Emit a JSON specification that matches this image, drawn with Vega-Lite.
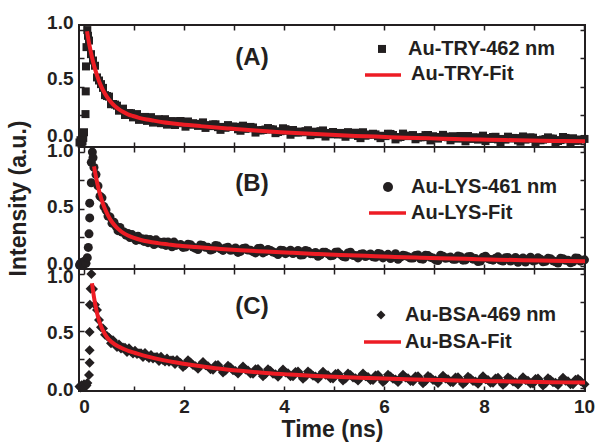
{
"$schema": "https://vega.github.io/schema/vega-lite/v6.json",
"background": "white",
"padding": {"left": 6, "top": 12, "right": 0, "bottom": 0},
"spacing": 0,
"bounds": "flush",
"config": {
  "view": {"stroke": "#231f20", "strokeWidth": 2},
  "axis": {"grid": false, "domain": false, "tickColor": "#231f20", "tickWidth": 1.5, "tickSize": -5, "labelFlush": false, "labelOverlap": false, "labelFont": "Liberation Sans", "labelFontWeight": "bold", "labelFontSize": 19, "labelColor": "#231f20", "titleFont": "Liberation Sans", "titleFontWeight": "bold", "titleFontSize": 23, "titleColor": "#231f20"},
  "text": {"font": "Liberation Sans", "fontWeight": "bold", "color": "#231f20"}
},
"datasets": {
  "pointsA": [
    {"t":-0.09,"v":0.01},{"t":-0.07,"v":0.03},{"t":-0.05,"v":0.0},{"t":-0.03,"v":0.02},{"t":-0.015,"v":0.05},{"t":0.0,"v":0.10},{"t":0.03,"v":0.26},{"t":0.035,"v":0.46},{"t":0.04,"v":0.68},{"t":0.05,"v":0.85},{"t":0.066,"v":1.0},{"t":0.08,"v":0.95},
    {"t":0.10,"v":0.908},{"t":0.14,"v":0.788},{"t":0.18,"v":0.732},{"t":0.22,"v":0.686},{"t":0.26,"v":0.583},{"t":0.30,"v":0.556},{"t":0.34,"v":0.524},{"t":0.38,"v":0.491},{"t":0.42,"v":0.427},{"t":0.46,"v":0.419},
    {"t":0.50,"v":0.414},{"t":0.54,"v":0.347},{"t":0.58,"v":0.349},{"t":0.62,"v":0.344},{"t":0.66,"v":0.334},{"t":0.70,"v":0.290},{"t":0.74,"v":0.298},{"t":0.78,"v":0.308},{"t":0.82,"v":0.252},{"t":0.86,"v":0.266},
    {"t":0.90,"v":0.269},{"t":0.94,"v":0.268},{"t":0.98,"v":0.231},{"t":1.02,"v":0.244},{"t":1.06,"v":0.260},{"t":1.10,"v":0.209},{"t":1.14,"v":0.226},{"t":1.18,"v":0.234},{"t":1.22,"v":0.235},{"t":1.26,"v":0.200},
    {"t":1.30,"v":0.216},{"t":1.34,"v":0.233},{"t":1.38,"v":0.185},{"t":1.42,"v":0.203},{"t":1.46,"v":0.212},{"t":1.50,"v":0.214},{"t":1.54,"v":0.180},{"t":1.58,"v":0.197},{"t":1.62,"v":0.215},{"t":1.66,"v":0.167},
    {"t":1.70,"v":0.186},{"t":1.74,"v":0.195},{"t":1.78,"v":0.198},{"t":1.82,"v":0.164},{"t":1.86,"v":0.182},
    {"t":1.93,"v":0.199},{"t":2.03,"v":0.149},{"t":2.13,"v":0.166},{"t":2.23,"v":0.173},{"t":2.33,"v":0.174},{"t":2.43,"v":0.138},{"t":2.53,"v":0.154},{"t":2.63,"v":0.170},{"t":2.73,"v":0.121},{"t":2.83,"v":0.139},
    {"t":2.93,"v":0.147},{"t":3.03,"v":0.148},{"t":3.13,"v":0.113},{"t":3.23,"v":0.130},{"t":3.33,"v":0.147},{"t":3.43,"v":0.097},{"t":3.53,"v":0.116},{"t":3.63,"v":0.124},{"t":3.73,"v":0.127},{"t":3.83,"v":0.092},
    {"t":3.93,"v":0.109},{"t":4.03,"v":0.127},{"t":4.13,"v":0.078},{"t":4.23,"v":0.098},{"t":4.33,"v":0.106},{"t":4.43,"v":0.109},{"t":4.53,"v":0.074},{"t":4.63,"v":0.092},{"t":4.73,"v":0.110},{"t":4.83,"v":0.062},
    {"t":4.93,"v":0.082},{"t":5.03,"v":0.091},{"t":5.13,"v":0.094},{"t":5.23,"v":0.060},{"t":5.33,"v":0.078},{"t":5.43,"v":0.096},{"t":5.53,"v":0.048},{"t":5.63,"v":0.069},{"t":5.73,"v":0.078},{"t":5.83,"v":0.081},
    {"t":5.93,"v":0.048},{"t":6.03,"v":0.066},{"t":6.13,"v":0.085},{"t":6.23,"v":0.037},{"t":6.33,"v":0.058},{"t":6.43,"v":0.067},{"t":6.53,"v":0.071},{"t":6.63,"v":0.038},{"t":6.73,"v":0.056},{"t":6.83,"v":0.075},
    {"t":6.93,"v":0.028},{"t":7.03,"v":0.049},{"t":7.13,"v":0.058},{"t":7.23,"v":0.062},{"t":7.33,"v":0.029},{"t":7.43,"v":0.048},{"t":7.53,"v":0.067},{"t":7.63,"v":0.020},{"t":7.73,"v":0.041},{"t":7.83,"v":0.051},
    {"t":7.93,"v":0.055},{"t":8.03,"v":0.022},{"t":8.13,"v":0.041},{"t":8.23,"v":0.060},{"t":8.33,"v":0.013},{"t":8.43,"v":0.035},{"t":8.53,"v":0.045},{"t":8.63,"v":0.049},{"t":8.73,"v":0.016},{"t":8.83,"v":0.035},
    {"t":8.93,"v":0.055},{"t":9.03,"v":0.008},{"t":9.13,"v":0.029},{"t":9.23,"v":0.040},{"t":9.33,"v":0.044},{"t":9.43,"v":0.011},{"t":9.53,"v":0.031},{"t":9.63,"v":0.050},{"t":9.73,"v":0.004},{"t":9.83,"v":0.025},
    {"t":9.93,"v":0.036},{"t":10.01,"v":0.041},
    {"t":1.98,"v":0.179},{"t":2.08,"v":0.195},{"t":2.18,"v":0.180},{"t":2.28,"v":0.156},{"t":2.38,"v":0.187},{"t":2.48,"v":0.163},{"t":2.58,"v":0.169},{"t":2.68,"v":0.145},{"t":2.78,"v":0.147},{"t":2.88,"v":0.163},
    {"t":2.98,"v":0.150},{"t":3.08,"v":0.126},{"t":3.18,"v":0.158},{"t":3.28,"v":0.135},{"t":3.38,"v":0.142},{"t":3.48,"v":0.118},{"t":3.58,"v":0.120},{"t":3.68,"v":0.137},{"t":3.78,"v":0.125},{"t":3.88,"v":0.102},
    {"t":3.98,"v":0.135},{"t":4.08,"v":0.113},{"t":4.18,"v":0.120},{"t":4.28,"v":0.098},{"t":4.38,"v":0.100},{"t":4.48,"v":0.118},{"t":4.58,"v":0.105},{"t":4.68,"v":0.083},{"t":4.78,"v":0.116},{"t":4.88,"v":0.094},
    {"t":4.98,"v":0.102},{"t":5.08,"v":0.080},{"t":5.18,"v":0.083},{"t":5.28,"v":0.101},{"t":5.38,"v":0.089},{"t":5.48,"v":0.067},{"t":5.58,"v":0.100},{"t":5.68,"v":0.079},{"t":5.78,"v":0.087},{"t":5.88,"v":0.065},
    {"t":5.98,"v":0.069},{"t":6.08,"v":0.087},{"t":6.18,"v":0.076},{"t":6.28,"v":0.054},{"t":6.38,"v":0.088},{"t":6.48,"v":0.066},{"t":6.58,"v":0.075},{"t":6.68,"v":0.054},{"t":6.78,"v":0.057},{"t":6.88,"v":0.076},
    {"t":6.98,"v":0.065},{"t":7.08,"v":0.044},{"t":7.18,"v":0.077},{"t":7.28,"v":0.056},{"t":7.38,"v":0.065},{"t":7.48,"v":0.044},{"t":7.58,"v":0.048},{"t":7.68,"v":0.067},{"t":7.78,"v":0.056},{"t":7.88,"v":0.035},
    {"t":7.98,"v":0.070},{"t":8.08,"v":0.049},{"t":8.18,"v":0.058},{"t":8.28,"v":0.037},{"t":8.38,"v":0.041},{"t":8.48,"v":0.061},{"t":8.58,"v":0.050},{"t":8.68,"v":0.029},{"t":8.78,"v":0.063},{"t":8.88,"v":0.042},
    {"t":8.98,"v":0.052},{"t":9.08,"v":0.031},{"t":9.18,"v":0.035},{"t":9.28,"v":0.055},{"t":9.38,"v":0.044},{"t":9.48,"v":0.023},{"t":9.58,"v":0.058},{"t":9.68,"v":0.037},{"t":9.78,"v":0.047},{"t":9.88,"v":0.026}
  ],
  "fitA": [
    {"t":0.06,"v":0.99},{"t":0.10,"v":0.888},{"t":0.14,"v":0.800},{"t":0.18,"v":0.724},{"t":0.22,"v":0.658},{"t":0.26,"v":0.601},{"t":0.30,"v":0.552},{"t":0.34,"v":0.509},{"t":0.38,"v":0.471},{"t":0.46,"v":0.411},
    {"t":0.54,"v":0.365},{"t":0.62,"v":0.329},{"t":0.70,"v":0.302},{"t":0.78,"v":0.280},{"t":0.88,"v":0.258},{"t":0.98,"v":0.243},{"t":1.10,"v":0.227},{"t":1.26,"v":0.212},{"t":1.38,"v":0.203},{"t":1.58,"v":0.189},
    {"t":1.93,"v":0.171},{"t":2.33,"v":0.154},{"t":2.93,"v":0.132},{"t":3.43,"v":0.115},{"t":3.93,"v":0.101},{"t":4.43,"v":0.089},{"t":4.93,"v":0.078},{"t":5.43,"v":0.068},{"t":5.93,"v":0.060},{"t":6.43,"v":0.052},
    {"t":6.93,"v":0.046},{"t":7.43,"v":0.040},{"t":7.93,"v":0.035},{"t":8.43,"v":0.031},{"t":8.93,"v":0.027},{"t":9.43,"v":0.023},{"t":10.02,"v":0.020}
  ],
  "pointsB": [
    {"t":-0.09,"v":0.005},{"t":-0.07,"v":0.02},{"t":-0.05,"v":0.0},{"t":-0.03,"v":0.03},{"t":-0.01,"v":0.01},{"t":0.0,"v":0.015},{"t":0.02,"v":0.04},{"t":0.04,"v":0.02},{"t":0.066,"v":0.07},{"t":0.086,"v":0.16},
    {"t":0.10,"v":0.28},{"t":0.114,"v":0.42},{"t":0.114,"v":0.55},{"t":0.146,"v":0.73},{"t":0.146,"v":0.91},{"t":0.167,"v":1.0},{"t":0.18,"v":0.95},
    {"t":0.20,"v":0.865},{"t":0.24,"v":0.802},{"t":0.28,"v":0.702},{"t":0.32,"v":0.612},{"t":0.36,"v":0.597},{"t":0.40,"v":0.520},{"t":0.44,"v":0.490},{"t":0.48,"v":0.436},{"t":0.52,"v":0.429},{"t":0.56,"v":0.374},
    {"t":0.60,"v":0.383},{"t":0.64,"v":0.346},{"t":0.68,"v":0.308},{"t":0.72,"v":0.336},{"t":0.76,"v":0.295},{"t":0.80,"v":0.296},{"t":0.84,"v":0.268},{"t":0.88,"v":0.283},{"t":0.92,"v":0.247},{"t":0.96,"v":0.273},
    {"t":1.00,"v":0.249},{"t":1.04,"v":0.222},{"t":1.08,"v":0.259},{"t":1.12,"v":0.228},{"t":1.16,"v":0.236},{"t":1.20,"v":0.213},{"t":1.24,"v":0.234},{"t":1.28,"v":0.202},{"t":1.32,"v":0.231},{"t":1.36,"v":0.211},
    {"t":1.40,"v":0.186},{"t":1.44,"v":0.227},{"t":1.48,"v":0.198},{"t":1.52,"v":0.206},{"t":1.56,"v":0.187},{"t":1.60,"v":0.209},{"t":1.64,"v":0.178},{"t":1.68,"v":0.209},{"t":1.72,"v":0.189},{"t":1.76,"v":0.166},
    {"t":1.80,"v":0.207},{"t":1.84,"v":0.178},
    {"t":1.93,"v":0.186},{"t":2.03,"v":0.164},{"t":2.13,"v":0.184},{"t":2.23,"v":0.153},{"t":2.33,"v":0.182},{"t":2.43,"v":0.162},{"t":2.53,"v":0.137},{"t":2.63,"v":0.177},{"t":2.73,"v":0.148},{"t":2.83,"v":0.156},
    {"t":2.93,"v":0.135},{"t":3.03,"v":0.156},{"t":3.13,"v":0.125},{"t":3.23,"v":0.155},{"t":3.33,"v":0.136},{"t":3.43,"v":0.112},{"t":3.53,"v":0.153},{"t":3.63,"v":0.124},{"t":3.73,"v":0.133},{"t":3.83,"v":0.113},
    {"t":3.93,"v":0.135},{"t":4.03,"v":0.105},{"t":4.13,"v":0.135},{"t":4.23,"v":0.116},{"t":4.33,"v":0.093},{"t":4.43,"v":0.134},{"t":4.53,"v":0.105},{"t":4.63,"v":0.115},{"t":4.73,"v":0.095},{"t":4.83,"v":0.117},
    {"t":4.93,"v":0.087},{"t":5.03,"v":0.118},{"t":5.13,"v":0.099},{"t":5.23,"v":0.076},{"t":5.33,"v":0.118},{"t":5.43,"v":0.089},{"t":5.53,"v":0.099},{"t":5.63,"v":0.080},{"t":5.73,"v":0.102},{"t":5.83,"v":0.073},
    {"t":5.93,"v":0.103},{"t":6.03,"v":0.085},{"t":6.13,"v":0.062},{"t":6.23,"v":0.104},{"t":6.33,"v":0.075},{"t":6.43,"v":0.086},{"t":6.53,"v":0.067},{"t":6.63,"v":0.089},{"t":6.73,"v":0.060},{"t":6.83,"v":0.091},
    {"t":6.93,"v":0.073},{"t":7.03,"v":0.050},{"t":7.13,"v":0.092},{"t":7.23,"v":0.064},{"t":7.33,"v":0.075},{"t":7.43,"v":0.056},{"t":7.53,"v":0.079},{"t":7.63,"v":0.050},{"t":7.73,"v":0.080},{"t":7.83,"v":0.062},
    {"t":7.93,"v":0.040},{"t":8.03,"v":0.082},{"t":8.13,"v":0.054},{"t":8.23,"v":0.065},{"t":8.33,"v":0.046},{"t":8.43,"v":0.069},{"t":8.53,"v":0.040},{"t":8.63,"v":0.071},{"t":8.73,"v":0.054},{"t":8.83,"v":0.032},
    {"t":8.93,"v":0.074},{"t":9.03,"v":0.046},{"t":9.13,"v":0.057},{"t":9.23,"v":0.038},{"t":9.33,"v":0.061},{"t":9.43,"v":0.033},{"t":9.53,"v":0.064},{"t":9.63,"v":0.046},{"t":9.73,"v":0.024},{"t":9.83,"v":0.067},
    {"t":9.93,"v":0.039},{"t":10.01,"v":0.051},
    {"t":1.98,"v":0.160},{"t":2.08,"v":0.188},{"t":2.18,"v":0.164},{"t":2.28,"v":0.141},{"t":2.38,"v":0.176},{"t":2.48,"v":0.161},{"t":2.58,"v":0.145},{"t":2.68,"v":0.172},{"t":2.78,"v":0.134},{"t":2.88,"v":0.162},
    {"t":2.98,"v":0.139},{"t":3.08,"v":0.116},{"t":3.18,"v":0.151},{"t":3.28,"v":0.137},{"t":3.38,"v":0.123},{"t":3.48,"v":0.150},{"t":3.58,"v":0.112},{"t":3.68,"v":0.142},{"t":3.78,"v":0.119},{"t":3.88,"v":0.097},
    {"t":3.98,"v":0.134},{"t":4.08,"v":0.120},{"t":4.18,"v":0.106},{"t":4.28,"v":0.134},{"t":4.38,"v":0.096},{"t":4.48,"v":0.126},{"t":4.58,"v":0.104},{"t":4.68,"v":0.082},{"t":4.78,"v":0.118},{"t":4.88,"v":0.104},
    {"t":4.98,"v":0.090},{"t":5.08,"v":0.119},{"t":5.18,"v":0.081},{"t":5.28,"v":0.111},{"t":5.38,"v":0.090},{"t":5.48,"v":0.068},{"t":5.58,"v":0.104},{"t":5.68,"v":0.091},{"t":5.78,"v":0.077},{"t":5.88,"v":0.106},
    {"t":5.98,"v":0.068},{"t":6.08,"v":0.099},{"t":6.18,"v":0.077},{"t":6.28,"v":0.056},{"t":6.38,"v":0.092},{"t":6.48,"v":0.079},{"t":6.58,"v":0.066},{"t":6.68,"v":0.094},{"t":6.78,"v":0.057},{"t":6.88,"v":0.088},
    {"t":6.98,"v":0.067},{"t":7.08,"v":0.045},{"t":7.18,"v":0.082},{"t":7.28,"v":0.069},{"t":7.38,"v":0.056},{"t":7.48,"v":0.085},{"t":7.58,"v":0.048},{"t":7.68,"v":0.079},{"t":7.78,"v":0.057},{"t":7.88,"v":0.036},
    {"t":7.98,"v":0.074},{"t":8.08,"v":0.061},{"t":8.18,"v":0.048},{"t":8.28,"v":0.077},{"t":8.38,"v":0.040},{"t":8.48,"v":0.071},{"t":8.58,"v":0.050},{"t":8.68,"v":0.029},{"t":8.78,"v":0.067},{"t":8.88,"v":0.054},
    {"t":8.98,"v":0.041},{"t":9.08,"v":0.070},{"t":9.18,"v":0.033},{"t":9.28,"v":0.064},{"t":9.38,"v":0.043},{"t":9.48,"v":0.023},{"t":9.58,"v":0.060},{"t":9.68,"v":0.047},{"t":9.78,"v":0.034},{"t":9.88,"v":0.064}
  ],
  "fitB": [
    {"t":0.20,"v":0.875},{"t":0.24,"v":0.780},{"t":0.28,"v":0.697},{"t":0.32,"v":0.628},{"t":0.36,"v":0.570},{"t":0.40,"v":0.520},{"t":0.48,"v":0.442},{"t":0.56,"v":0.384},{"t":0.64,"v":0.341},{"t":0.72,"v":0.309},
    {"t":0.80,"v":0.284},{"t":0.88,"v":0.265},{"t":1.00,"v":0.244},{"t":1.12,"v":0.228},{"t":1.28,"v":0.212},{"t":1.48,"v":0.198},{"t":1.68,"v":0.187},{"t":1.93,"v":0.174},{"t":2.23,"v":0.163},{"t":2.63,"v":0.150},
    {"t":3.13,"v":0.135},{"t":3.63,"v":0.124},{"t":4.13,"v":0.113},{"t":4.63,"v":0.103},{"t":5.13,"v":0.094},{"t":5.63,"v":0.086},{"t":6.13,"v":0.078},{"t":6.63,"v":0.071},{"t":7.13,"v":0.065},{"t":7.63,"v":0.060},
    {"t":8.13,"v":0.054},{"t":8.63,"v":0.049},{"t":9.13,"v":0.045},{"t":9.63,"v":0.041},{"t":10.02,"v":0.039}
  ],
  "pointsC": [
    {"t":-0.09,"v":0.01},{"t":-0.07,"v":0.0},{"t":-0.05,"v":0.02},{"t":-0.03,"v":0.005},{"t":0.0,"v":0.03},{"t":0.03,"v":0.01},{"t":0.05,"v":0.02},{"t":0.067,"v":0.04},{"t":0.10,"v":0.11},{"t":0.113,"v":0.22},
    {"t":0.113,"v":0.33},{"t":0.113,"v":0.49},{"t":0.118,"v":0.73},{"t":0.133,"v":0.87},{"t":0.147,"v":1.0},
    {"t":0.18,"v":0.868},{"t":0.22,"v":0.729},{"t":0.26,"v":0.683},{"t":0.30,"v":0.595},{"t":0.34,"v":0.532},{"t":0.38,"v":0.521},{"t":0.42,"v":0.466},{"t":0.46,"v":0.454},{"t":0.50,"v":0.439},{"t":0.54,"v":0.391},
    {"t":0.58,"v":0.417},{"t":0.62,"v":0.382},{"t":0.66,"v":0.358},{"t":0.70,"v":0.379},{"t":0.74,"v":0.345},{"t":0.78,"v":0.353},{"t":0.82,"v":0.350},{"t":0.86,"v":0.313},{"t":0.90,"v":0.346},{"t":0.94,"v":0.318},
    {"t":0.98,"v":0.300},{"t":1.02,"v":0.325},{"t":1.06,"v":0.295},{"t":1.10,"v":0.303},{"t":1.14,"v":0.303},{"t":1.18,"v":0.269},{"t":1.22,"v":0.305},{"t":1.26,"v":0.277},{"t":1.30,"v":0.260},{"t":1.34,"v":0.287},
    {"t":1.38,"v":0.257},{"t":1.42,"v":0.268},{"t":1.46,"v":0.270},{"t":1.50,"v":0.235},{"t":1.54,"v":0.271},{"t":1.58,"v":0.244},{"t":1.62,"v":0.229},{"t":1.66,"v":0.256},{"t":1.70,"v":0.227},{"t":1.74,"v":0.239},
    {"t":1.78,"v":0.240},{"t":1.82,"v":0.207},{"t":1.86,"v":0.244},
    {"t":1.93,"v":0.217},{"t":2.03,"v":0.198},{"t":2.13,"v":0.221},{"t":2.23,"v":0.189},{"t":2.33,"v":0.198},{"t":2.43,"v":0.197},{"t":2.53,"v":0.161},{"t":2.63,"v":0.196},{"t":2.73,"v":0.168},{"t":2.83,"v":0.151},
    {"t":2.93,"v":0.176},{"t":3.03,"v":0.147},{"t":3.13,"v":0.158},{"t":3.23,"v":0.159},{"t":3.33,"v":0.125},{"t":3.43,"v":0.161},{"t":3.53,"v":0.135},{"t":3.63,"v":0.119},{"t":3.73,"v":0.146},{"t":3.83,"v":0.118},
    {"t":3.93,"v":0.130},{"t":4.03,"v":0.132},{"t":4.13,"v":0.100},{"t":4.23,"v":0.137},{"t":4.33,"v":0.112},{"t":4.43,"v":0.097},{"t":4.53,"v":0.125},{"t":4.63,"v":0.098},{"t":4.73,"v":0.111},{"t":4.83,"v":0.114},
    {"t":4.93,"v":0.082},{"t":5.03,"v":0.120},{"t":5.13,"v":0.095},{"t":5.23,"v":0.081},{"t":5.33,"v":0.110},{"t":5.43,"v":0.083},{"t":5.53,"v":0.096},{"t":5.63,"v":0.100},{"t":5.73,"v":0.068},{"t":5.83,"v":0.107},
    {"t":5.93,"v":0.083},{"t":6.03,"v":0.069},{"t":6.13,"v":0.098},{"t":6.23,"v":0.071},{"t":6.33,"v":0.085},{"t":6.43,"v":0.089},{"t":6.53,"v":0.058},{"t":6.63,"v":0.097},{"t":6.73,"v":0.072},{"t":6.83,"v":0.059},
    {"t":6.93,"v":0.088},{"t":7.03,"v":0.062},{"t":7.13,"v":0.076},{"t":7.23,"v":0.080},{"t":7.33,"v":0.049},{"t":7.43,"v":0.088},{"t":7.53,"v":0.064},{"t":7.63,"v":0.051},{"t":7.73,"v":0.080},{"t":7.83,"v":0.054},
    {"t":7.93,"v":0.069},{"t":8.03,"v":0.073},{"t":8.13,"v":0.042},{"t":8.23,"v":0.081},{"t":8.33,"v":0.057},{"t":8.43,"v":0.044},{"t":8.53,"v":0.074},{"t":8.63,"v":0.048},{"t":8.73,"v":0.062},{"t":8.83,"v":0.066},
    {"t":8.93,"v":0.036},{"t":9.03,"v":0.075},{"t":9.13,"v":0.051},{"t":9.23,"v":0.038},{"t":9.33,"v":0.068},{"t":9.43,"v":0.042},{"t":9.53,"v":0.057},{"t":9.63,"v":0.061},{"t":9.73,"v":0.030},{"t":9.83,"v":0.070},
    {"t":9.93,"v":0.059},{"t":10.01,"v":0.029},
    {"t":1.98,"v":0.182},{"t":2.08,"v":0.240},{"t":2.18,"v":0.198},{"t":2.28,"v":0.166},{"t":2.38,"v":0.225},{"t":2.48,"v":0.189},{"t":2.58,"v":0.158},{"t":2.68,"v":0.198},{"t":2.78,"v":0.133},{"t":2.88,"v":0.193},
    {"t":2.98,"v":0.153},{"t":3.08,"v":0.124},{"t":3.18,"v":0.185},{"t":3.28,"v":0.151},{"t":3.38,"v":0.122},{"t":3.48,"v":0.163},{"t":3.58,"v":0.100},{"t":3.68,"v":0.161},{"t":3.78,"v":0.123},{"t":3.88,"v":0.095},
    {"t":3.98,"v":0.159},{"t":4.08,"v":0.126},{"t":4.18,"v":0.099},{"t":4.28,"v":0.141},{"t":4.38,"v":0.079},{"t":4.48,"v":0.141},{"t":4.58,"v":0.104},{"t":4.68,"v":0.077},{"t":4.78,"v":0.140},{"t":4.88,"v":0.108},
    {"t":4.98,"v":0.081},{"t":5.08,"v":0.124},{"t":5.18,"v":0.062},{"t":5.28,"v":0.125},{"t":5.38,"v":0.089},{"t":5.48,"v":0.062},{"t":5.58,"v":0.125},{"t":5.68,"v":0.094},{"t":5.78,"v":0.067},{"t":5.88,"v":0.111},
    {"t":5.98,"v":0.050},{"t":6.08,"v":0.113},{"t":6.18,"v":0.077},{"t":6.28,"v":0.050},{"t":6.38,"v":0.114},{"t":6.48,"v":0.083},{"t":6.58,"v":0.057},{"t":6.68,"v":0.101},{"t":6.78,"v":0.039},{"t":6.88,"v":0.103},
    {"t":6.98,"v":0.067},{"t":7.08,"v":0.041},{"t":7.18,"v":0.105},{"t":7.28,"v":0.074},{"t":7.38,"v":0.048},{"t":7.48,"v":0.092},{"t":7.58,"v":0.031},{"t":7.68,"v":0.095},{"t":7.78,"v":0.059},{"t":7.88,"v":0.033},
    {"t":7.98,"v":0.099},{"t":8.08,"v":0.068},{"t":8.18,"v":0.042},{"t":8.28,"v":0.086},{"t":8.38,"v":0.025},{"t":8.48,"v":0.089},{"t":8.58,"v":0.054},{"t":8.68,"v":0.028},{"t":8.78,"v":0.092},{"t":8.88,"v":0.061},
    {"t":8.98,"v":0.036},{"t":9.08,"v":0.080},{"t":9.18,"v":0.019},{"t":9.28,"v":0.083},{"t":9.38,"v":0.048},{"t":9.48,"v":0.022},{"t":9.58,"v":0.087},{"t":9.68,"v":0.056},{"t":9.78,"v":0.030},{"t":9.88,"v":0.075}
  ],
  "fitC": [
    {"t":0.16,"v":0.920},{"t":0.18,"v":0.853},{"t":0.22,"v":0.744},{"t":0.26,"v":0.658},{"t":0.30,"v":0.593},{"t":0.34,"v":0.542},{"t":0.38,"v":0.501},{"t":0.46,"v":0.444},{"t":0.54,"v":0.406},{"t":0.62,"v":0.380},
    {"t":0.70,"v":0.359},{"t":0.78,"v":0.343},{"t":0.90,"v":0.321},{"t":1.02,"v":0.305},{"t":1.18,"v":0.284},{"t":1.38,"v":0.262},{"t":1.58,"v":0.242},{"t":1.78,"v":0.225},{"t":1.93,"v":0.215},{"t":2.23,"v":0.194},
    {"t":2.63,"v":0.171},{"t":3.13,"v":0.148},{"t":3.63,"v":0.129},{"t":4.13,"v":0.115},{"t":4.63,"v":0.103},{"t":5.13,"v":0.093},{"t":5.63,"v":0.085},{"t":6.13,"v":0.078},{"t":6.63,"v":0.072},{"t":7.13,"v":0.066},
    {"t":7.63,"v":0.061},{"t":8.13,"v":0.057},{"t":8.63,"v":0.053},{"t":9.13,"v":0.049},{"t":9.63,"v":0.046},{"t":10.02,"v":0.044}
  ]
},
"vconcat": [
  {
    "width": 506, "height": 122,
    "layer": [
      {"data": {"name": "pointsA"},
       "mark": {"type": "point", "shape": "square", "filled": true, "size": 64, "opacity": 1, "color": "#231f20", "strokeWidth": 0},
       "encoding": {
         "x": {"field": "t", "type": "quantitative", "scale": {"domain": [-0.1, 10.02], "nice": false, "zero": false},
               "axis": {"orient": "bottom", "values": [0,1,2,3,4,5,6,7,8,9,10], "labels": false, "title": null}},
         "y": {"field": "v", "type": "quantitative", "scale": {"domain": [-0.03, 1.045], "nice": false, "zero": false},
               "axis": {"orient": "left", "values": [0,0.25,0.5,0.75,1], "format": ".1f", "labelExpr": "datum.value == 0.25 || datum.value == 0.75 ? '' : datum.label", "labelPadding": 11, "labelOffset": -8, "title": null}}
       }},
      {"data": {"name": "fitA"},
       "mark": {"type": "line", "color": "#ed1c24", "strokeWidth": 4, "interpolate": "monotone"},
       "encoding": {
         "x": {"field": "t", "type": "quantitative", "axis": {"orient": "top", "values": [0,1,2,3,4,5,6,7,8,9,10], "labels": false, "title": null}},
         "y": {"field": "v", "type": "quantitative", "axis": {"orient": "right", "values": [0,0.25,0.5,0.75,1], "labels": false, "title": null}}
       }},
      {"data": {"values": [{}]},
       "mark": {"type": "text", "fontSize": 24, "align": "center", "baseline": "middle", "text": "(A)"},
       "encoding": {"x": {"datum": 3.36, "type": "quantitative", "axis": null}, "y": {"datum": 0.754, "type": "quantitative", "axis": null}}},
      {"data": {"values": [{}]},
       "mark": {"type": "point", "shape": "square", "filled": true, "size": 64, "opacity": 1, "color": "#231f20", "strokeWidth": 0},
       "encoding": {"x": {"datum": 5.96, "type": "quantitative", "axis": null}, "y": {"datum": 0.834, "type": "quantitative", "axis": null}}},
      {"data": {"values": [{}]},
       "mark": {"type": "text", "fontSize": 20, "align": "left", "baseline": "middle", "text": "Au-TRY-462 nm"},
       "encoding": {"x": {"datum": 6.48, "type": "quantitative", "axis": null}, "y": {"datum": 0.834, "type": "quantitative", "axis": null}}},
      {"data": {"values": [{}]},
       "mark": {"type": "rule", "color": "#ed1c24", "strokeWidth": 3.5},
       "encoding": {"x": {"datum": 5.62, "type": "quantitative", "axis": null}, "x2": {"datum": 6.34}, "y": {"datum": 0.604, "type": "quantitative", "axis": null}}},
      {"data": {"values": [{}]},
       "mark": {"type": "text", "fontSize": 20, "align": "left", "baseline": "middle", "text": "Au-TRY-Fit"},
       "encoding": {"x": {"datum": 6.54, "type": "quantitative", "axis": null}, "y": {"datum": 0.612, "type": "quantitative", "axis": null}}}
    ]
  },
  {
    "width": 506, "height": 122,
    "layer": [
      {"data": {"name": "pointsB"},
       "mark": {"type": "point", "shape": "circle", "filled": true, "size": 81, "opacity": 1, "color": "#231f20", "strokeWidth": 0},
       "encoding": {
         "x": {"field": "t", "type": "quantitative", "scale": {"domain": [-0.1, 10.02], "nice": false, "zero": false},
               "axis": {"orient": "bottom", "values": [0,1,2,3,4,5,6,7,8,9,10], "labels": false, "title": null}},
         "y": {"field": "v", "type": "quantitative", "scale": {"domain": [-0.03, 1.045], "nice": false, "zero": false},
               "axis": {"orient": "left", "values": [0,0.25,0.5,0.75,1], "format": ".1f", "labelExpr": "datum.value == 0.25 || datum.value == 0.75 ? '' : datum.label", "labelPadding": 11, "labelOffset": -2, "title": "Intensity (a.u.)", "titlePadding": 16, "titleY": 51}}
       }},
      {"data": {"name": "fitB"},
       "mark": {"type": "line", "color": "#ed1c24", "strokeWidth": 4, "interpolate": "monotone"},
       "encoding": {
         "x": {"field": "t", "type": "quantitative", "axis": {"orient": "top", "values": [0,1,2,3,4,5,6,7,8,9,10], "labels": false, "title": null}},
         "y": {"field": "v", "type": "quantitative", "axis": {"orient": "right", "values": [0,0.25,0.5,0.75,1], "labels": false, "title": null}}
       }},
      {"data": {"values": [{}]},
       "mark": {"type": "text", "fontSize": 24, "align": "center", "baseline": "middle", "text": "(B)"},
       "encoding": {"x": {"datum": 3.36, "type": "quantitative", "axis": null}, "y": {"datum": 0.719, "type": "quantitative", "axis": null}}},
      {"data": {"values": [{}]},
       "mark": {"type": "point", "shape": "circle", "filled": true, "size": 100, "opacity": 1, "color": "#231f20", "strokeWidth": 0},
       "encoding": {"x": {"datum": 6.08, "type": "quantitative", "axis": null}, "y": {"datum": 0.693, "type": "quantitative", "axis": null}}},
      {"data": {"values": [{}]},
       "mark": {"type": "text", "fontSize": 20, "align": "left", "baseline": "middle", "text": "Au-LYS-461 nm"},
       "encoding": {"x": {"datum": 6.54, "type": "quantitative", "axis": null}, "y": {"datum": 0.693, "type": "quantitative", "axis": null}}},
      {"data": {"values": [{}]},
       "mark": {"type": "rule", "color": "#ed1c24", "strokeWidth": 3.5},
       "encoding": {"x": {"datum": 5.7, "type": "quantitative", "axis": null}, "x2": {"datum": 6.44}, "y": {"datum": 0.464, "type": "quantitative", "axis": null}}},
      {"data": {"values": [{}]},
       "mark": {"type": "text", "fontSize": 20, "align": "left", "baseline": "middle", "text": "Au-LYS-Fit"},
       "encoding": {"x": {"datum": 6.54, "type": "quantitative", "axis": null}, "y": {"datum": 0.464, "type": "quantitative", "axis": null}}}
    ]
  },
  {
    "width": 506, "height": 122,
    "layer": [
      {"data": {"name": "pointsC"},
       "mark": {"type": "point", "shape": "diamond", "filled": true, "size": 100, "opacity": 1, "color": "#231f20", "strokeWidth": 0},
       "encoding": {
         "x": {"field": "t", "type": "quantitative", "scale": {"domain": [-0.1, 10.02], "nice": false, "zero": false},
               "axis": {"orient": "bottom", "values": [0,1,2,3,4,5,6,7,8,9,10], "labelExpr": "datum.value % 2 == 0 ? datum.label : ''", "labelPadding": 11, "title": "Time (ns)", "titlePadding": 2}},
         "y": {"field": "v", "type": "quantitative", "scale": {"domain": [-0.03, 1.045], "nice": false, "zero": false},
               "axis": {"orient": "left", "values": [0,0.25,0.5,0.75,1], "format": ".1f", "labelExpr": "datum.value == 0.25 || datum.value == 0.75 ? '' : datum.label", "labelPadding": 11, "labelOffset": 2, "title": null}}
       }},
      {"data": {"name": "fitC"},
       "mark": {"type": "line", "color": "#ed1c24", "strokeWidth": 4, "interpolate": "monotone"},
       "encoding": {
         "x": {"field": "t", "type": "quantitative", "axis": {"orient": "top", "values": [0,1,2,3,4,5,6,7,8,9,10], "labels": false, "title": null}},
         "y": {"field": "v", "type": "quantitative", "axis": {"orient": "right", "values": [0,0.25,0.5,0.75,1], "labels": false, "title": null}}
       }},
      {"data": {"values": [{}]},
       "mark": {"type": "text", "fontSize": 24, "align": "center", "baseline": "middle", "text": "(C)"},
       "encoding": {"x": {"datum": 3.36, "type": "quantitative", "axis": null}, "y": {"datum": 0.71, "type": "quantitative", "axis": null}}},
      {"data": {"values": [{}]},
       "mark": {"type": "point", "shape": "diamond", "filled": true, "size": 80, "opacity": 1, "color": "#231f20", "strokeWidth": 0},
       "encoding": {"x": {"datum": 5.94, "type": "quantitative", "axis": null}, "y": {"datum": 0.64, "type": "quantitative", "axis": null}}},
      {"data": {"values": [{}]},
       "mark": {"type": "text", "fontSize": 20, "align": "left", "baseline": "middle", "text": "Au-BSA-469 nm"},
       "encoding": {"x": {"datum": 6.42, "type": "quantitative", "axis": null}, "y": {"datum": 0.64, "type": "quantitative", "axis": null}}},
      {"data": {"values": [{}]},
       "mark": {"type": "rule", "color": "#ed1c24", "strokeWidth": 3.5},
       "encoding": {"x": {"datum": 5.6, "type": "quantitative", "axis": null}, "x2": {"datum": 6.34}, "y": {"datum": 0.402, "type": "quantitative", "axis": null}}},
      {"data": {"values": [{}]},
       "mark": {"type": "text", "fontSize": 20, "align": "left", "baseline": "middle", "text": "Au-BSA-Fit"},
       "encoding": {"x": {"datum": 6.42, "type": "quantitative", "axis": null}, "y": {"datum": 0.402, "type": "quantitative", "axis": null}}}
    ]
  }
]
}
